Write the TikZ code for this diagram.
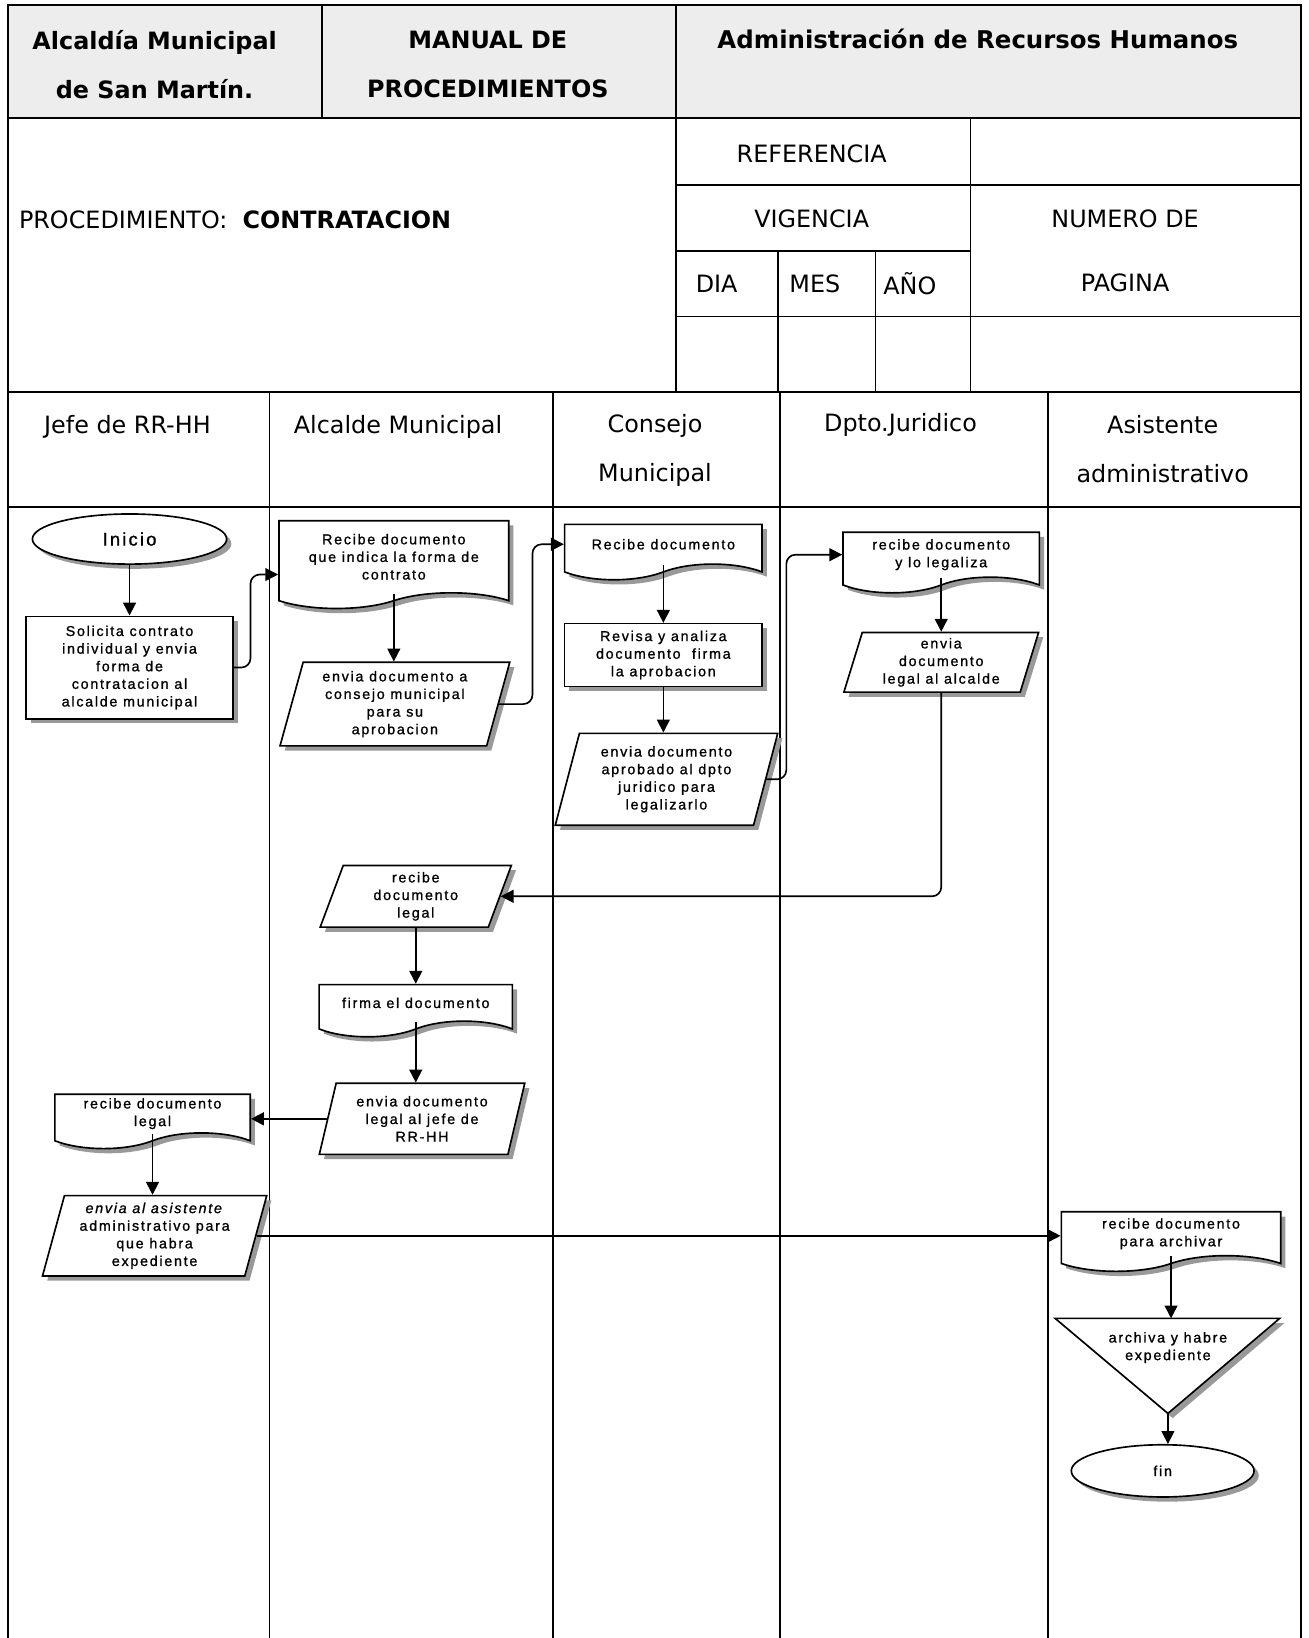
\documentclass[tikz,border=0pt]{standalone}
\usepackage{fontspec}
\setmainfont{DejaVu Sans}
\newfontfamily\boxfont[LetterSpace=12,FakeBold=1]{Liberation Sans}
\usepackage{tikz}
\usetikzlibrary{calc,arrows.meta,shapes.geometric,shapes.symbols,shadows}

\tikzset{
  shad/.style={drop shadow={shadow xshift=0.09cm, shadow yshift=-0.09cm, fill=black!40, opacity=1}},
  box/.style={draw, line width=0.9pt, fill=white, align=center, inner sep=1pt,
    font=\boxfont\fontsize{7.8}{9.6}\selectfont, shad},
  procbox/.style={box, rectangle},
  docbox/.style={box, tape, tape bend top=none, tape bend height=0.3cm},
  iobox/.style={box, trapezium, trapezium left angle=75, trapezium right angle=105,
    trapezium stretches=true},
  termbox/.style={box, ellipse},
  conn/.style={line width=0.9pt, -{Triangle[length=7pt,width=7pt]}},
  flow/.style={rounded corners=5pt},
  grid/.style={line width=1pt},
  hd/.style={font=\fontsize{13}{15}\selectfont},
  hdtwo/.style={font=\fontsize{13}{26.6}\selectfont, align=center},
  hdbold/.style={font=\bfseries\fontsize{13}{26.6}\selectfont, align=center},
}

\begin{document}
\begin{tikzpicture}[x=0.02cm, y=-0.02cm]
\useasboundingbox (0,0) rectangle (1253,1568);

% header band and frame
\fill[black!7] (8,5) rectangle (1245,113);
\draw[grid] (8,1568) -- (8,5) -- (1245,5) -- (1245,1568);
\draw[grid] (8,113) -- (1245,113);
\draw[grid] (308,5) -- (308,113);
\draw[grid] (647,5) -- (647,375);
\draw[grid] (8,375) -- (1245,375);
\draw[grid] (8,485) -- (1245,485);
\draw[grid] (647,177) -- (1245,177);
\draw[grid] (647,240) -- (929,240);
\draw[grid] (647,303) -- (1245,303);
\draw[grid] (929,113) -- (929,375);
\draw[grid] (745,240) -- (745,375);
\draw[grid] (838,240) -- (838,375);
\foreach \x in {258,529,747,1003}
  \draw[grid] (\x,375) -- (\x,1568);

% header texts
\node[hdbold] (alcaldia) at (148,62) {Alcaldía Municipal\\de San Martín.};
\node[hdbold] (manual) at (467,62) {MANUAL DE\\PROCEDIMIENTOS};
\node[hd, font=\bfseries\fontsize{13.3}{15}\selectfont] (admin) at (936,37) {Administración de Recursos Humanos};
\node[hd, anchor=west] (proc) at (12,210) {PROCEDIMIENTO:\ \ \textbf{CONTRATACION}};
\node[hd] (refer) at (777,147) {REFERENCIA};
\node[hd] (vig) at (777,209) {VIGENCIA};
\node[hd] (num) at (1077,209) {NUMERO DE};
\node[hd] (pag) at (1077,271) {PAGINA};
\node[hd] (dia) at (686,272) {DIA};
\node[hd] (mes) at (780,272) {MES};
\node[hd] (anio) at (871,272) {AÑO};

% lanes
\node[hd] (jefe) at (122,409) {Jefe de RR-HH};
\node[hd] (alcalde) at (381,409) {Alcalde Municipal};
\node[hdtwo] (consejo) at (627,431) {Consejo\\Municipal};
\node[hd] (dpto) at (862,407) {Dpto.Juridico};
\node[hdtwo] (asist) at (1113,430) {Asistente\\administrativo};

% flow
\node[termbox, minimum width=3.72cm, minimum height=0.96cm, font=\boxfont\fontsize{10}{12}\selectfont] (inicio) at (124,516) {Inicio};
\node[procbox, minimum width=3.96cm, minimum height=1.96cm] (solicita) at (124,639) {Solicita contrato\\individual y envia\\forma de\\contratacion al\\alcalde municipal};
\node[docbox, minimum width=4.4cm, minimum height=1.68cm] (docA) at (377,533) {Recibe documento\\que indica la forma de\\contrato};
\node[iobox, minimum width=4.4cm, minimum height=1.6cm] (paraA) at (378,674) {envia documento a\\consejo municipal\\para su\\aprobacion};
\node[docbox, minimum width=3.78cm, minimum height=1.06cm] (docB) at (635,521) {Recibe documento};
\node[procbox, minimum width=3.78cm, minimum height=1.2cm] (revisa) at (635,627) {Revisa y analiza\\documento\ \ firma\\la aprobacion};
\node[iobox, minimum width=4.28cm, minimum height=1.76cm] (paraB) at (638,746) {envia documento\\aprobado al dpto\\juridico para\\legalizarlo};
\node[docbox, minimum width=3.76cm, minimum height=1.16cm] (docC) at (901,531) {recibe documento\\y lo legaliza};
\node[iobox, minimum width=3.74cm, minimum height=1.14cm] (paraC) at (901,634) {envia\\documento\\legal al alcalde};
\node[iobox, minimum width=3.68cm, minimum height=1.18cm] (paraD) at (398,858) {recibe\\documento\\legal};
\node[docbox, minimum width=3.7cm, minimum height=1.0cm] (docD) at (398,960) {firma el documento};
\node[iobox, minimum width=3.96cm, minimum height=1.36cm] (paraE) at (404,1071) {envia documento\\legal al jefe de\\RR-HH};
\node[docbox, minimum width=3.74cm, minimum height=1.04cm] (docE) at (146,1066) {recibe documento\\legal};
\node[iobox, minimum width=4.3cm, minimum height=1.54cm] (paraF) at (148,1183) {\textit{envia al asistente}\\administrativo para\\que habra\\expediente};
\node[docbox, minimum width=4.2cm, minimum height=1.14cm] (docF) at (1121,1181) {recibe documento\\para archivar};
\coordinate (archL) at (1010,1262);
\coordinate (archR) at (1225,1262);
\coordinate (archB) at (1118,1353);
\coordinate (archT) at (1118,1262);
\path[draw, fill=white, line width=0.9pt, shad] (archL) -- (archR) -- (archB) -- cycle;
\node[font=\boxfont\fontsize{7.8}{9.6}\selectfont, align=center] (arch) at (1118,1290) {archiva y habre\\expediente};
\node[termbox, minimum width=3.5cm, minimum height=1.0cm] (fin) at (1113,1408) {fin};

% connectors
\draw[conn] (inicio) -- (solicita);
\draw[conn, flow] (solicita.east) -- ++(16,0) |- ([yshift=-0.34cm]docA.west);
\draw[conn] (docA.south) -- (docA.south |- paraA.north);
\draw[conn, flow] (paraA.east) -- ++(32,0) |- (docB.west);
\draw[conn] (docB.south) -- (docB.south |- revisa.north);
\draw[conn] (revisa.south) -- (revisa.south |- paraB.north);
\draw[conn, flow] (paraB.east) -- ++(19,0) |- (docC.west);
\draw[conn] (docC.south) -- (docC.south |- paraC.north);
\draw[conn, flow] (paraC.south) |- (paraD.east);
\draw[conn] (paraD.south) -- (paraD.south |- docD.north);
\draw[conn] (docD.south) -- (docD.south |- paraE.north);
\draw[conn] (paraE.west) -- (paraE.west -| docE.east);
\draw[conn] (docE.south) -- (docE.south |- paraF.north);
\draw[conn] (paraF.east) -- (paraF.east -| docF.west);
\draw[conn] (docF.south) -- (docF.south |- archT);
\draw[conn] (archB) -- (archB |- fin.north);
\end{tikzpicture}
\end{document}
